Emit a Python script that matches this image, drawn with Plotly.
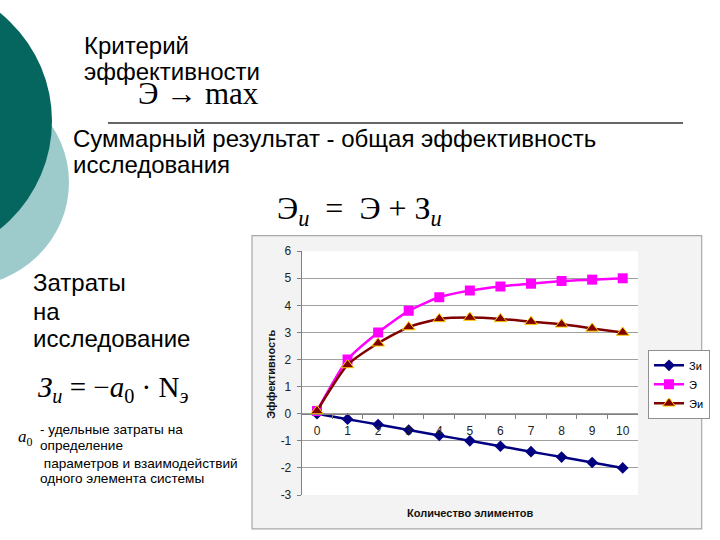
import plotly.graph_objects as go

# ---- data ----
elements = ["0", "1", "2", "3", "4", "5", "6", "7", "8", "9", "10"]
zi_costs = [0, -0.2, -0.4, -0.6, -0.8, -1.0, -1.2, -1.4, -1.6, -1.8, -2.0]
e_effect = [0.1, 2.0, 3.0, 3.8, 4.3, 4.55, 4.7, 4.8, 4.9, 4.95, 5.0]
ei_total = [0.1, 1.8, 2.6, 3.2, 3.5, 3.55, 3.5, 3.4, 3.3, 3.15, 3.0]
series_names = ["Зи", "Э", "Эи"]
y_ticks = [-3, -2, -1, 0, 1, 2, 3, 4, 5, 6]
y_ticktext = [str(v) for v in y_ticks]

W, H = 720, 540


def PX(x):
    return x / W


def PY(y):
    return 1 - y / H


SANS = "Liberation Sans, Arial, sans-serif"
SERIF = "Liberation Serif, Times New Roman, serif"

fig = go.Figure()
fig.add_trace(go.Scatter(
    x=elements, y=zi_costs, name=series_names[0], mode="lines+markers",
    line=dict(color="#000080", width=2.5, shape="spline", smoothing=0.6),
    marker=dict(symbol="diamond", size=9, color="#000080")))
fig.add_trace(go.Scatter(
    x=elements, y=e_effect, name=series_names[1], mode="lines+markers",
    line=dict(color="#FF00FF", width=2.5, shape="spline", smoothing=0.6),
    marker=dict(symbol="square", size=10, color="#FF00FF")))
fig.add_trace(go.Scatter(
    x=elements, y=ei_total, name=series_names[2], mode="lines+markers",
    line=dict(color="#800000", width=2.5, shape="spline", smoothing=0.6),
    marker=dict(symbol="triangle-up", size=11, color="#800000",
                line=dict(color="#FFCC00", width=1))))

ydom = [PY(501), PY(250.7)]
yr = [-3, 6]
x_axis_pos = ydom[0] + (0 - yr[0]) / (yr[1] - yr[0]) * (ydom[1] - ydom[0])

fig.update_layout(
    width=W, height=H, margin=dict(l=0, r=0, t=0, b=0),
    paper_bgcolor="white", plot_bgcolor="white",
    font=dict(family=SANS, color="#000000"),
    xaxis=dict(type="category", domain=[PX(301.7), PX(638)], range=[-0.5, 10.5],
               anchor="free", position=x_axis_pos,
               showline=True, linecolor="#808080", linewidth=1,
               ticks="outside", tickson="boundaries", ticklen=4, tickcolor="#808080",
               ticklabelstandoff=6,
               showgrid=False, tickfont=dict(size=12, color="#222222")),
    yaxis=dict(domain=ydom, range=yr, tickvals=y_ticks, ticktext=y_ticktext,
               showgrid=True, gridcolor="#a0a0a0", gridwidth=1,
               showline=True, linecolor="#808080", linewidth=1,
               ticks="outside", ticklen=4, tickcolor="#808080", zeroline=False,
               ticklabelstandoff=3,
               tickfont=dict(size=12, color="#222222")),
    legend=dict(x=PX(648), y=PY(352), xanchor="left", yanchor="top",
                bgcolor="white", bordercolor="#909090", borderwidth=1,
                font=dict(size=11, family=SANS, color="#000000"),
                itemwidth=30, tracegroupgap=0),
    showlegend=True,
)

shapes = [
    # decorative circles
    dict(type="circle", xref="paper", yref="paper",
         x0=PX(-38 - 107), x1=PX(-38 + 107), y0=PY(180 + 107), y1=PY(180 - 107),
         fillcolor="#9DCBCB", line=dict(width=0), layer="below"),
    dict(type="circle", xref="paper", yref="paper",
         x0=PX(-92.5 - 144.5), x1=PX(-92.5 + 144.5), y0=PY(117 + 144.5), y1=PY(117 - 144.5),
         fillcolor="#04665F", line=dict(width=0), layer="below"),
    # separator line
    dict(type="line", xref="paper", yref="paper",
         x0=PX(108), x1=PX(683), y0=PY(119), y1=PY(119),
         line=dict(color="#333333", width=1.5)),
    # chart frame
    dict(type="rect", xref="paper", yref="paper",
         x0=PX(252), x1=PX(701.7), y0=PY(535.7), y1=PY(234.7),
         fillcolor="#f3f3f3", line=dict(color="#a8a8a8", width=1.2), layer="below"),
    # plot area
    dict(type="rect", xref="x domain", yref="y domain", x0=0, x1=1, y0=0, y1=1,
         fillcolor="white", line=dict(width=0), layer="below"),
]
fig.update_layout(shapes=shapes)

annotations = []


def ann(text, x, baseline, size, family=SANS, color="#000000", ascent=0.905):
    annotations.append(dict(
        text=text, x=PX(x), y=PY(baseline - ascent * size - 1),
        xref="paper", yref="paper", xanchor="left", yanchor="top",
        showarrow=False, align="left",
        font=dict(size=size, family=family, color=color)))


BIG = 24
ann("Критерий", 82, 46.7, BIG)
ann("эффективности", 82, 73, BIG)
ann("Э → max", 136, 97, 31, SERIF, ascent=0.891)
ann("Суммарный результат - общая эффективность", 71, 141.7, BIG)
ann("исследования", 71, 168, BIG)
ann("Э<sub><i>и</i></sub>  =  Э + З<sub><i>и</i></sub>", 275, 215, 32, SERIF, ascent=0.891)
ann("Затраты", 31, 290, BIG)
ann("на", 31, 319, BIG)
ann("исследование", 31, 347, BIG)
ann("<i>З</i><sub><i>и</i></sub> = −<i>a</i><sub>0</sub> · N<sub><i>э</i></sub>", 36, 398, 29, SERIF, ascent=0.891)
ann("<i>a</i><sub>0</sub>", 16, 445, 17, SERIF, ascent=0.891)
SMALL = 13.6
ann("- удельные затраты на", 38, 437, SMALL)
ann("определение", 38, 454, SMALL)
ann(" параметров и взаимодействий", 38, 472, SMALL)
ann("одного элемента системы", 38, 488, SMALL)

# axis titles
annotations.append(dict(text="<b>Количество элиментов</b>", x=PX(470), y=PY(519),
                        xref="paper", yref="paper", xanchor="center", yanchor="middle",
                        showarrow=False, font=dict(size=11, family=SANS, color="#111111")))
annotations.append(dict(text="<b>Эффективность</b>", x=PX(271.5), y=PY(377),
                        xref="paper", yref="paper", xanchor="center", yanchor="middle",
                        textangle=-90, showarrow=False,
                        font=dict(size=11, family=SANS, color="#111111")))
fig.update_layout(annotations=annotations)

fig.write_html("out.html")
